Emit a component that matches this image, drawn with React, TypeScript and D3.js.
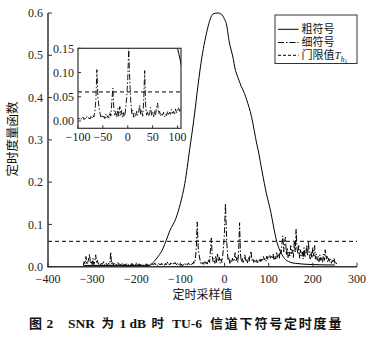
import React from "react";
import * as d3 from "d3";

// ---------- data ----------
const xTicks = [-400, -300, -200, -100, 0, 100, 200, 300];
const yTicks = [0, 0.1, 0.2, 0.3, 0.4, 0.5, 0.6];
const insetXTicks = [-100, -50, 0, 50, 100];
const insetYTicks = [0, 0.05, 0.1, 0.15];
const threshold = 0.06;

// coarse symbol timing metric (solid)
const coarseX = [-320, -280, -240, -200, -180, -170, -160, -150, -140, -132, -124, -110, -100, -90, -79, -70, -60, -55, -41, -30, -26, -15, -7, 0, 4, 10, 20, 23, 30, 38, 45, 50, 61, 73, 76, 85, 95, 100, 105, 110, 118, 125, 132, 140, 160, 200, 250];
const coarseY = [0.003, 0.003, 0.003, 0.003, 0.003, 0.003, 0.012, 0.025, 0.042, 0.063, 0.085, 0.115, 0.15, 0.197, 0.278, 0.345, 0.43, 0.47, 0.552, 0.592, 0.598, 0.6, 0.597, 0.585, 0.575, 0.535, 0.49, 0.472, 0.448, 0.426, 0.41, 0.395, 0.355, 0.29, 0.276, 0.225, 0.172, 0.15, 0.128, 0.1, 0.06, 0.039, 0.025, 0.015, 0.008, 0.005, 0.004];

// fine symbol timing metric (dash-dot), samples every 2 starting at -320
const fineStart = -320;
const fineStep = 2;
const fineValues = [
  // -320 .. -170
  0.004, 0.012, 0.006, 0.024, 0.005, 0.010, 0.018, 0.030, 0.008, 0.014,
  0.006, 0.020, 0.005, 0.012, 0.028, 0.009, 0.015, 0.006, 0.008, 0.004,
  0.010, 0.005, 0.007, 0.012, 0.004, 0.006, 0.009, 0.004, 0.006, 0.008,
  0.005, 0.035, 0.006, 0.012, 0.004, 0.008, 0.005, 0.007, 0.004, 0.010,
  0.005, 0.006, 0.004, 0.008, 0.005, 0.009, 0.004, 0.006, 0.003, 0.007,
  0.004, 0.005, 0.003, 0.006, 0.004, 0.008, 0.003, 0.005, 0.004, 0.006,
  0.003, 0.005, 0.004, 0.007, 0.003, 0.005, 0.004, 0.006, 0.003, 0.005,
  0.004, 0.007, 0.003, 0.005, 0.004, 0.006,
  // -168 .. -102
  0.004, 0.007, 0.003, 0.006, 0.005, 0.009, 0.004, 0.006, 0.003, 0.008,
  0.005, 0.007, 0.004, 0.010, 0.005, 0.006, 0.003, 0.008, 0.004, 0.012,
  0.005, 0.007, 0.004, 0.009, 0.006, 0.005, 0.008, 0.004, 0.010, 0.006,
  0.005, 0.008, 0.004, 0.007,
  // -100 .. 106
  0.003, 0.006, 0.002, 0.005, 0.004, 0.008, 0.003, 0.006, 0.004, 0.009,
  0.005, 0.007, 0.004, 0.010, 0.006, 0.012, 0.008, 0.020, 0.045, 0.106,
  0.050, 0.030, 0.018, 0.008, 0.012, 0.006, 0.010, 0.005, 0.014, 0.007,
  0.011, 0.006, 0.018, 0.010, 0.040, 0.068, 0.025, 0.012, 0.020, 0.008,
  0.026, 0.010, 0.030, 0.012, 0.022, 0.008, 0.018, 0.010, 0.028, 0.050,
  0.088, 0.150, 0.085, 0.040, 0.015, 0.022, 0.008, 0.016, 0.010, 0.020,
  0.012, 0.018, 0.033, 0.014, 0.022, 0.010, 0.040, 0.104, 0.030, 0.012,
  0.020, 0.010, 0.016, 0.028, 0.012, 0.018, 0.009, 0.022, 0.013, 0.030,
  0.037, 0.015, 0.020, 0.010, 0.016, 0.012, 0.018, 0.009, 0.014, 0.011,
  0.020, 0.012, 0.018, 0.014, 0.024, 0.016, 0.020, 0.013, 0.025, 0.017,
  0.022, 0.028, 0.020, 0.025,
  // 108 .. 254
  0.020, 0.030, 0.015, 0.025, 0.018, 0.035, 0.022, 0.030, 0.020, 0.040,
  0.030, 0.055, 0.073, 0.035, 0.060, 0.070, 0.028, 0.045, 0.020, 0.035,
  0.025, 0.050, 0.030, 0.040, 0.022, 0.060, 0.035, 0.089, 0.045, 0.030,
  0.050, 0.020, 0.040, 0.025, 0.035, 0.018, 0.045, 0.022, 0.030, 0.050,
  0.025, 0.059, 0.030, 0.018, 0.035, 0.020, 0.045, 0.025, 0.050, 0.018,
  0.030, 0.015, 0.025, 0.012, 0.028, 0.015, 0.022, 0.010, 0.030, 0.015,
  0.040, 0.018, 0.025, 0.010, 0.020, 0.012, 0.018, 0.008, 0.015, 0.010,
  0.020, 0.008, 0.012, 0.006,
];

const legendLabels = ["粗符号", "细符号", "门限值"];
const xLabel = "定时采样值";
const yLabel = "定时度量函数";

// ---------- layout ----------
const W = 371;
const H = 337;
const serif = "'Liberation Serif', 'DejaVu Serif', serif";
const cjk = "'Noto Sans CJK SC', 'Noto Sans', sans-serif";
const dashDot = "6,2,1.5,2";
const dashed = "4,3";

type P = [number, number];

export default function App() {
  const x = d3.scaleLinear().domain([-400, 300]).range([48, 357]);
  const y = d3.scaleLinear().domain([0, 0.6]).range([266.7, 13]);
  const ix = d3.scaleLinear().domain([-100, 107]).range([78, 181]);
  const iy = d3.scaleLinear().domain([-0.015, 0.15]).range([128.3, 48.3]);

  const coarse: P[] = coarseX.map((v, i) => [v, coarseY[i]]);
  const fine: P[] = fineValues.map((v, i) => [fineStart + i * fineStep, v]);

  const mainLine = d3.line<P>().x((d) => x(d[0])).y((d) => y(d[1]));
  const mainCurve = d3
    .line<P>()
    .x((d) => x(d[0]))
    .y((d) => y(d[1]))
    .curve(d3.curveMonotoneX);
  const insetLine = d3.line<P>().x((d) => ix(d[0])).y((d) => iy(d[1]));
  const insetCurve = d3
    .line<P>()
    .x((d) => ix(d[0]))
    .y((d) => iy(d[1]))
    .curve(d3.curveMonotoneX);

  const fmtMain = (v: number) => (v < 0 ? "\u2212" + Math.abs(v) : String(v));
  const axisColor = "#333";

  const legendY = [29.3, 42.5, 55.3];

  return (
    <svg width={W} height={H} style={{ position: "absolute", left: 0, top: 0, background: "#fff" }}>
      <defs>
        <clipPath id="insetClip">
          <rect x={ix(-100)} y={iy(0.15)} width={ix(107) - ix(-100)} height={iy(-0.015) - iy(0.15)} />
        </clipPath>
      </defs>
      <rect x={0} y={0} width={W} height={H} fill="#fff" />

      {/* threshold main */}
      <line x1={x(-400)} x2={x(300)} y1={y(threshold)} y2={y(threshold)} stroke="#000" strokeWidth={1} strokeDasharray={dashed} />

      {/* fine series main */}
      <path d={mainLine(fine) || ""} fill="none" stroke="#000" strokeWidth={1} strokeDasharray={dashDot} />
      {/* coarse series main */}
      <path d={mainCurve(coarse) || ""} fill="none" stroke="#000" strokeWidth={1} />

      {/* axes main */}
      <line x1={48} x2={48} y1={y(0.6)} y2={y(0) + 0.5} stroke={axisColor} strokeWidth={1.5} />
      <line x1={47.5} x2={x(300)} y1={y(0)} y2={y(0)} stroke={axisColor} strokeWidth={1.5} />
      {yTicks.map((t) => (
        <g key={"yt" + t}>
          <line x1={48} x2={52} y1={y(t)} y2={y(t)} stroke={axisColor} strokeWidth={1} />
          <text x={43} y={y(t)} dy="0.35em" textAnchor="end" fontFamily={serif} fontSize={12} fill="#222">
            {t.toFixed(1)}
          </text>
        </g>
      ))}
      {xTicks.map((t) => (
        <g key={"xt" + t}>
          <line x1={x(t)} x2={x(t)} y1={y(0)} y2={y(0) - 4} stroke={axisColor} strokeWidth={1} />
          <text x={x(t)} y={282.5} textAnchor="middle" fontFamily={serif} fontSize={12} fill="#222">
            {fmtMain(t)}
          </text>
        </g>
      ))}
      <text x={202.5} y={298.5} textAnchor="middle" fontFamily={cjk} fontSize={12} fill="#111">
        {xLabel}
      </text>
      <text
        transform="translate(17,139) rotate(-90)"
        textAnchor="middle"
        fontFamily={cjk}
        fontSize={12.5}
        fill="#111"
      >
        {yLabel}
      </text>

      {/* inset */}
      <rect x={ix(-100)} y={iy(0.15)} width={ix(107) - ix(-100)} height={iy(-0.015) - iy(0.15)} fill="#fff" />
      <g clipPath="url(#insetClip)">
        <line x1={ix(-100)} x2={ix(107)} y1={iy(threshold)} y2={iy(threshold)} stroke="#000" strokeWidth={1} strokeDasharray={dashed} />
        <path d={insetLine(fine) || ""} fill="none" stroke="#000" strokeWidth={0.9} strokeDasharray={dashDot} />
        <path d={insetCurve(coarse) || ""} fill="none" stroke="#000" strokeWidth={1} />
      </g>
      <rect x={ix(-100)} y={iy(0.15)} width={ix(107) - ix(-100)} height={iy(-0.015) - iy(0.15)} fill="none" stroke={axisColor} strokeWidth={1.2} />
      {insetYTicks.map((t) => (
        <g key={"iyt" + t}>
          <line x1={ix(-100)} x2={ix(-100) + 3} y1={iy(t)} y2={iy(t)} stroke={axisColor} strokeWidth={1} />
          <text x={74} y={iy(t)} dy="0.35em" textAnchor="end" fontFamily={serif} fontSize={12} fill="#222">
            {t.toFixed(2)}
          </text>
        </g>
      ))}
      {insetXTicks.map((t) => (
        <g key={"ixt" + t}>
          <line x1={ix(t)} x2={ix(t)} y1={iy(-0.015)} y2={iy(-0.015) - 3} stroke={axisColor} strokeWidth={1} />
          <text x={ix(t)} y={141} textAnchor="middle" fontFamily={serif} fontSize={12} fill="#222">
            {fmtMain(t)}
          </text>
        </g>
      ))}

      {/* legend */}
      <rect x={275} y={15} width={82} height={48.5} fill="#fff" stroke={axisColor} strokeWidth={1} />
      {legendLabels.map((lab, i) => (
        <g key={"lg" + i}>
          <line
            x1={278}
            x2={298.5}
            y1={legendY[i]}
            y2={legendY[i]}
            stroke="#000"
            strokeWidth={1}
            strokeDasharray={i === 0 ? undefined : i === 1 ? "6,2,1.5,2" : "3,2"}
          />
          <text x={301.5} y={legendY[i]} dy="0.36em" fontFamily={cjk} fontSize={11} fill="#111">
            {lab}
            {i === 2 ? (
              <>
                <tspan fontFamily={serif} fontStyle="italic" fontSize={11}>T</tspan>
                <tspan fontFamily={serif} fontStyle="italic" fontSize={7.5} dy="2.5">h</tspan>
                <tspan fontFamily={serif} fontSize={5.5} dy="1.5">1</tspan>
              </>
            ) : null}
          </text>
        </g>
      ))}

      {/* caption */}
      <g fontWeight="bold" fill="#111">
        <text x={29} y={328} fontFamily={cjk} fontSize={13}>图</text>
        <text x={46.5} y={328} fontFamily={serif} fontSize={13.5}>2</text>
        <text x={68} y={328} fontFamily={serif} fontSize={13.5}>SNR</text>
        <text x={101.5} y={328} fontFamily={cjk} fontSize={12.5}>为</text>
        <text x={119.5} y={328} fontFamily={serif} fontSize={13.5}>1</text>
        <text x={129.5} y={328} fontFamily={serif} fontSize={13.5}>dB</text>
        <text x={151.5} y={328} fontFamily={cjk} fontSize={12.5}>时</text>
        <text x={172} y={328} fontFamily={serif} fontSize={13.5}>TU-6</text>
        <text x={210} y={328} fontFamily={cjk} fontSize={13} letterSpacing={1.8}>信道下符号定时度量</text>
      </g>
    </svg>
  );
}
